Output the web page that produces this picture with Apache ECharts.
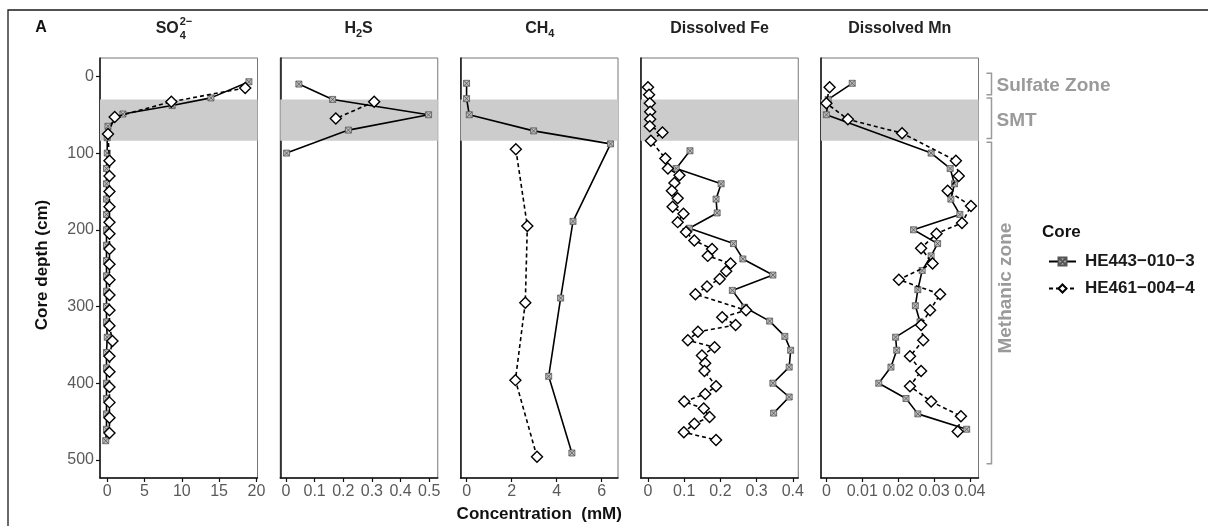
<!DOCTYPE html>
<html>
<head>
<meta charset="utf-8">
<script src="https://cdn.jsdelivr.net/npm/echarts@6/dist/echarts.min.js"></script>
<style>
  html, body { margin: 0; padding: 0; background: #fff; }
  #chart { width: 1208px; height: 526px; }
</style>
</head>
<body>
<div id="chart"></div>
<script>
// core names
const coreA = 'HE443\u2212010\u22123';
const coreB = 'HE461\u2212004\u22124';

// depth axis (cm)
const depthMin = -24;
const depthMax = 523.6;
const depthTicks = [0, 100, 200, 300, 400, 500];
const smtBand = [30, 84];

// SO4 2- (mM)
const so4DepthA = [7, 28, 38, 49, 65, 80, 100, 120, 140, 160, 180, 200, 220, 240, 260, 280, 300, 320, 340, 360, 380, 400, 420, 440, 460, 475];
const so4ValueA = [19.0, 13.9, 8.7, 2.1, 0.1, 0.0, 0.0, -0.1, -0.1, -0.1, -0.1, -0.1, -0.1, -0.1, -0.1, -0.1, -0.1, -0.1, 0.0, -0.1, -0.1, -0.1, -0.1, -0.1, -0.1, -0.2];
const so4DepthB = [15, 33, 53, 75, 110, 130, 150, 170, 190, 205, 225, 245, 265, 285, 305, 325, 345, 365, 385, 405, 425, 445, 465];
const so4ValueB = [18.5, 8.6, 1.0, 0.1, 0.3, 0.3, 0.3, 0.3, 0.3, 0.3, 0.3, 0.3, 0.3, 0.3, 0.3, 0.3, 0.7, 0.3, 0.3, 0.3, 0.3, 0.3, 0.3];
const so4Ticks = [0, 5, 10, 15, 20];

// H2S (mM)
const h2sDepthA = [10, 30, 50, 70, 100];
const h2sValueA = [0.045, 0.163, 0.498, 0.218, 0.002];
const h2sDepthB = [33, 55];
const h2sValueB = [0.308, 0.174];
const h2sTicks = [0, 0.1, 0.2, 0.3, 0.4, 0.5];

// CH4 (mM)
const ch4DepthA = [9, 29, 50, 71, 88, 189, 289, 391, 491];
const ch4ValueA = [0.0, 0.0, 0.12, 2.98, 6.4, 4.73, 4.18, 3.65, 4.68];
const ch4DepthB = [95, 195, 295, 396, 496];
const ch4ValueB = [2.19, 2.7, 2.61, 2.17, 3.13];
const ch4Ticks = [0, 2, 4, 6];

// Dissolved Fe (mM)
const feDepthA = [97, 120, 140, 160, 178, 198, 218, 238, 259, 279, 301, 319, 339, 357, 379, 400, 418, 439];
const feValueA = [0.116, 0.078, 0.202, 0.188, 0.191, 0.114, 0.236, 0.262, 0.345, 0.233, 0.267, 0.336, 0.378, 0.394, 0.39, 0.345, 0.39, 0.347];
const feDepthB = [14, 24, 35, 46, 56, 65, 73, 84, 107, 120, 129, 139, 149, 159, 170, 179, 190, 203, 214, 225, 234, 244, 254, 264, 274, 284, 305, 314, 324, 333, 344, 353, 364, 374, 384, 404, 414, 424, 433, 444, 453, 464, 474];
const feValueB = [0, 0.003, 0.005, 0.006, 0.006, 0.005, 0.04, 0.008, 0.048, 0.055, 0.087, 0.073, 0.066, 0.082, 0.068, 0.098, 0.082, 0.105, 0.128, 0.177, 0.165, 0.228, 0.216, 0.198, 0.163, 0.131, 0.271, 0.205, 0.242, 0.138, 0.11, 0.184, 0.149, 0.158, 0.156, 0.188, 0.158, 0.1, 0.154, 0.17, 0.128, 0.099, 0.188];
const feTicks = [0, 0.1, 0.2, 0.3, 0.4];

// Dissolved Mn (mM)
const mnDepthA = [9, 30, 50, 100, 120, 140, 160, 180, 200, 218, 234, 253, 278, 299, 320, 340, 357, 379, 400, 420, 440, 460];
const mnValueA = [0.0072, 0.0005, 0, 0.0292, 0.0345, 0.0357, 0.0347, 0.0372, 0.0243, 0.031, 0.0292, 0.0267, 0.0255, 0.0248, 0.0261, 0.0193, 0.0196, 0.018, 0.0146, 0.0222, 0.0255, 0.0391];
const mnDepthB = [14, 35, 56, 74, 110, 130, 149, 169, 191, 205, 224, 244, 265, 284, 305, 324, 344, 365, 384, 404, 424, 443, 463];
const mnValueB = [0.0009, 0, 0.006, 0.0211, 0.0361, 0.0369, 0.0338, 0.0403, 0.0378, 0.0307, 0.0264, 0.0296, 0.0202, 0.0317, 0.0289, 0.0264, 0.027, 0.0233, 0.0264, 0.0233, 0.0292, 0.0375, 0.0366];
const mnTicks = [0, 0.01, 0.02, 0.03, 0.04];

// zone brackets on the right (cm)
const zoneNames = ['Sulfate Zone', 'SMT', 'Methanic zone'];
const zoneTop = [-4, 28, 86];
const zoneBottom = [24, 81, 505];
const zoneLabelDepth = [12, 58, 276];

const panels = [
    { min: -0.97, max: 20.15, ticks: so4Ticks, a: [so4DepthA, so4ValueA], b: [so4DepthB, so4ValueB] },
    { min: -0.02, max: 0.53, ticks: h2sTicks, a: [h2sDepthA, h2sValueA], b: [h2sDepthB, h2sValueB] },
    { min: -0.27, max: 6.73, ticks: ch4Ticks, a: [ch4DepthA, ch4ValueA], b: [ch4DepthB, ch4ValueB] },
    { min: -0.02, max: 0.415, ticks: feTicks, a: [feDepthA, feValueA], b: [feDepthB, feValueB] },
    { min: -0.0015, max: 0.0424, ticks: mnTicks, a: [mnDepthA, mnValueA], b: [mnDepthB, mnValueB] },
];

const FONT = 'Liberation Sans';
const squareSymbol = 'path://M0,0L10,0L10,10L0,10Z M0,0L10,10 M10,0L0,10';
const pairs = (d, v) => d.map((_, i) => [v[i], d[i]]);

const chart = echarts.init(document.getElementById('chart'));

const grids = panels.map((p, i) => ({
    left: 100 + i * 180.25,
    top: 58,
    width: 157.5,
    height: 420,
    show: true,
    borderColor: '#777',
    borderWidth: 1,
}));

const xAxes = panels.map((p, i) => ({
    type: 'value',
    gridIndex: i,
    min: p.min,
    max: p.max,
    axisLine: { show: true, onZero: false, lineStyle: { color: '#111', width: 1.5 } },
    axisTick: { show: true, length: 4, customValues: p.ticks, lineStyle: { color: '#111', width: 1.2 } },
    axisLabel: { customValues: p.ticks, color: '#5a5a5a', fontSize: 16, fontFamily: FONT, margin: 6 },
    splitLine: { show: false },
}));

const yAxes = panels.map((p, i) => ({
    type: 'value',
    gridIndex: i,
    inverse: true,
    min: depthMin,
    max: depthMax,
    axisLine: { show: true, onZero: false, lineStyle: { color: '#111', width: 1.5 } },
    axisTick: { show: i === 0, length: 4, customValues: depthTicks, lineStyle: { color: '#111', width: 1.2 } },
    axisLabel: { show: i === 0, customValues: depthTicks, color: '#5a5a5a', fontSize: 16, fontFamily: FONT, margin: 6 },
    splitLine: { show: false },
}));

const series = [];
panels.forEach((p, i) => {
    series.push({
        type: 'line',
        xAxisIndex: i,
        yAxisIndex: i,
        data: [],
        silent: true,
        z: 1,
        markArea: {
            silent: true,
            itemStyle: { color: '#cccccc' },
            data: [[{ yAxis: smtBand[0] }, { yAxis: smtBand[1] }]],
        },
    });
    series.push({
        name: coreA,
        type: 'line',
        xAxisIndex: i,
        yAxisIndex: i,
        data: pairs(p.a[0], p.a[1]),
        symbol: squareSymbol,
        symbolSize: 6,
        showAllSymbol: true,
        z: 3,
        lineStyle: { color: '#000', width: 1.6 },
        itemStyle: { color: '#bbb', borderColor: '#555', borderWidth: 0.8 },
    });
    series.push({
        name: coreB,
        type: 'line',
        xAxisIndex: i,
        yAxisIndex: i,
        data: pairs(p.b[0], p.b[1]),
        symbol: 'diamond',
        symbolSize: 11,
        showAllSymbol: true,
        z: 4,
        lineStyle: { color: '#000', width: 1.6, type: [4, 3] },
        itemStyle: { color: '#fff', borderColor: '#000', borderWidth: 1.4 },
    });
});

chart.setOption({
    animation: false,
    backgroundColor: '#fff',
    textStyle: { fontFamily: FONT },
    grid: grids,
    xAxis: xAxes,
    yAxis: yAxes,
    legend: {
        data: [coreA, coreB],
        orient: 'vertical',
        left: 1043,
        top: 248,
        itemWidth: 27,
        itemHeight: 10,
        itemGap: 10,
        selectedMode: false,
        formatter: name => '{t|' + name + '}',
        textStyle: {
            rich: { t: { fontSize: 17, fontWeight: 'bold', color: '#1a1a1a', fontFamily: FONT, padding: [0, 0, 0, 4] } },
        },
    },
    series: series,
});

// text and brackets
const titleFont = 'bold 16px ' + FONT;
const smallFont = 'bold 11px ' + FONT;
const txt = (x, y, text, font, fill, align, rotation) => ({
    type: 'text',
    x: x,
    y: y,
    rotation: rotation || 0,
    silent: true,
    style: {
        text: text, font: font, fill: fill,
        textAlign: align, align: align,
        textVerticalAlign: 'middle', verticalAlign: 'middle',
    },
});

const cx = i => grids[i].left + grids[i].width / 2;
const elements = [
    { type: 'rect', shape: { x: 8, y: 10, width: 1230, height: 560 }, style: { fill: 'none', stroke: '#1a1a1a', lineWidth: 1.3 }, silent: true },
    txt(41, 28, 'A', 'bold 16px ' + FONT, '#111', 'center'),
    // SO4 2-
    txt(cx(0) + 0, 29, 'SO', titleFont, '#222', 'right'),
    txt(cx(0) + 1, 22, '2\u2212', smallFont, '#222', 'left'),
    txt(cx(0) + 1, 36, '4', smallFont, '#222', 'left'),
    // H2S
    txt(cx(1) - 3, 29, 'H', titleFont, '#222', 'right'),
    txt(cx(1) - 3, 34, '2', smallFont, '#222', 'left'),
    txt(cx(1) + 3, 29, 'S', titleFont, '#222', 'left'),
    // CH4
    txt(cx(2) + 9, 29, 'CH', titleFont, '#222', 'right'),
    txt(cx(2) + 9, 34, '4', smallFont, '#222', 'left'),
    txt(cx(3), 29, 'Dissolved Fe', titleFont, '#222', 'center'),
    txt(cx(4), 29, 'Dissolved Mn', titleFont, '#222', 'center'),
    txt(42, 265, 'Core depth (cm)', 'bold 17px ' + FONT, '#111', 'center', Math.PI / 2),
    txt(cx(2), 514, 'Concentration  (mM)', 'bold 17px ' + FONT, '#111', 'center'),
    txt(1042, 232, 'Core', 'bold 17px ' + FONT, '#111', 'left'),
];

const bx = grids[4].left + grids[4].width + 13;
const py = d => chart.convertToPixel({ yAxisIndex: 4 }, d);
zoneNames.forEach((name, k) => {
    const y0 = py(zoneTop[k]);
    const y1 = py(zoneBottom[k]);
    elements.push({
        type: 'polyline',
        silent: true,
        shape: { points: [[bx - 5, y0], [bx, y0], [bx, y1], [bx - 5, y1]] },
        style: { stroke: '#9a9a9a', lineWidth: 1.5, fill: 'none' },
    });
    const ly = py(zoneLabelDepth[k]);
    if (k < 2) {
        elements.push(txt(bx + 5, ly, name, 'bold 19px ' + FONT, '#9a9a9a', 'left'));
    } else {
        elements.push(txt(bx + 14, ly, name, 'bold 19px ' + FONT, '#9a9a9a', 'center', Math.PI / 2));
    }
});

chart.setOption({ graphic: { elements: elements } });
</script>
</body>
</html>
